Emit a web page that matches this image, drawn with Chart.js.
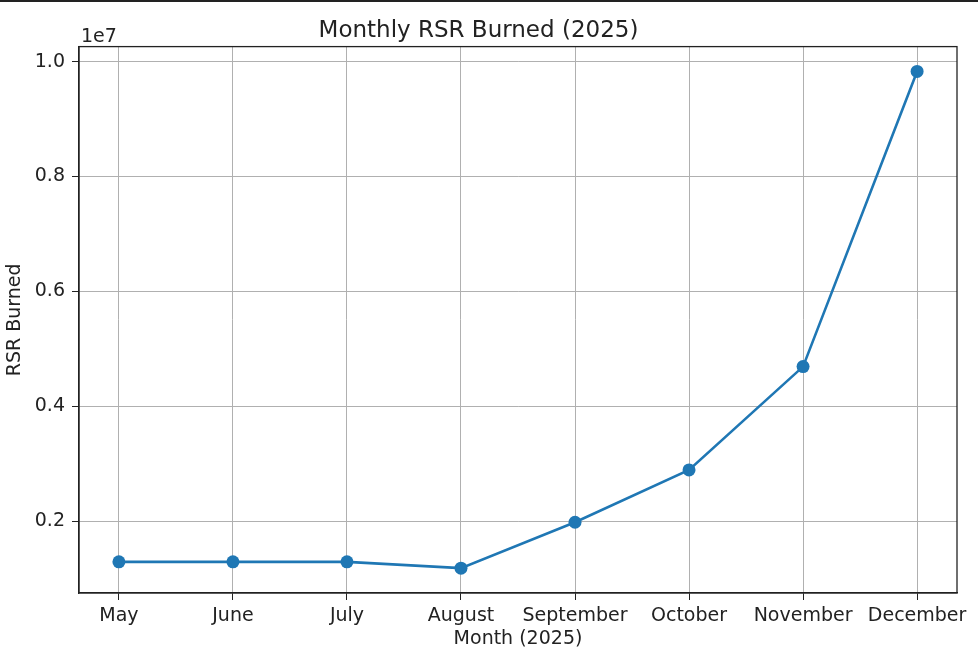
<!DOCTYPE html>
<html>
<head>
<meta charset="utf-8">
<title>Monthly RSR Burned (2025)</title>
<script src="https://cdn.jsdelivr.net/npm/chart.js@4.4.1/dist/chart.umd.min.js"></script>
<style>
  html, body { margin: 0; padding: 0; background: #fff; }
  .wrap { position: relative; width: 978px; height: 660px; }
  .topbar { position: absolute; left: 0; top: 0; width: 978px; height: 2px; background: #222; }
  canvas { display: block; }
</style>
</head>
<body>
<div class="wrap">
  <canvas id="myChart" width="978" height="660"></canvas>
  <div class="topbar"></div>
</div>
<script>
/* DATA */
const months = ['May', 'June', 'July', 'August', 'September', 'October', 'November', 'December'];
const rsrBurned = [1290000, 1290000, 1290000, 1180000, 1980000, 2890000, 4690000, 9830000];
const yTicks = [2000000, 4000000, 6000000, 8000000, 10000000];

const FONT = 'DejaVu Sans';
const lineBlue = '#1f77b4';

/* y limits with the 5% margin matplotlib uses */
const dataMin = Math.min(...rsrBurned);
const dataMax = Math.max(...rsrBurned);
const pad = (dataMax - dataMin) * 0.05;

/* frame on all four sides + the "1e7" offset text */
const framePlugin = {
  id: 'frame',
  afterDraw: function(chart){
    const ctx = chart.ctx;
    const a = chart.chartArea;
    ctx.save();
    ctx.strokeStyle = '#222';
    ctx.lineWidth = 1.3;
    ctx.strokeRect(a.left, a.top, a.right - a.left, a.bottom - a.top);
    ctx.fillStyle = '#222';
    ctx.font = '19px "' + FONT + '"';
    ctx.textAlign = 'left';
    ctx.textBaseline = 'middle';
    ctx.fillText('1e7', a.left + 2, a.top - 10);
    ctx.restore();
  },
};

const ctx = document.getElementById('myChart').getContext('2d');

const chart = new Chart(ctx, {
  type: 'line',
  data: {
    datasets: [{
      label: 'RSR Burned',
      data: rsrBurned.map(function(v, i){ return {x: i, y: v}; }),
      borderColor: lineBlue,
      backgroundColor: lineBlue,
      borderWidth: 2.6,
      pointRadius: 6.5,
      pointHoverRadius: 6.5,
      pointBorderWidth: 0,
      tension: 0,
      clip: false,
    }],
  },
  options: {
    responsive: false,
    animation: false,
    events: [],
    layout: { padding: { left: 0, right: 21, top: 0, bottom: 0 } },
    plugins: {
      legend: { display: false },
      tooltip: { enabled: false },
      title: {
        display: true,
        text: 'Monthly RSR Burned (2025)',
        color: '#222',
        font: { family: FONT, size: 23, weight: 'normal' },
        padding: { top: 17, bottom: 2 },
      },
    },
    scales: {
      x: {
        type: 'linear',
        min: -0.35,
        max: months.length - 1 + 0.35,
        afterBuildTicks: function(scale){
          scale.ticks = months.map(function(m, i){ return {value: i}; });
        },
        afterFit: function(scale){ scale.height = 67; },
        ticks: {
          color: '#222',
          font: { family: FONT, size: 19 },
          padding: 5,
          maxRotation: 0,
          autoSkip: false,
          callback: function(v){ return months[v]; },
        },
        grid: { color: '#b0b0b0', lineWidth: 1, tickColor: '#222', tickLength: 7 },
        border: { color: '#222', width: 1.3 },
        title: {
          display: true,
          text: 'Month (2025)',
          color: '#222',
          font: { family: FONT, size: 19 },
          padding: { top: 0, bottom: 10 },
        },
      },
      y: {
        type: 'linear',
        min: dataMin - pad,
        max: dataMax + pad,
        afterBuildTicks: function(scale){
          scale.ticks = yTicks.map(function(v){ return {value: v}; });
        },
        afterFit: function(scale){ scale.width = 79; },
        ticks: {
          color: '#222',
          font: { family: FONT, size: 19 },
          padding: 7,
          callback: function(v){ return (v / 1e7).toFixed(1); },
        },
        grid: { color: '#b0b0b0', lineWidth: 1, tickColor: '#222', tickLength: 7 },
        border: { color: '#222', width: 1.3 },
        title: {
          display: true,
          text: 'RSR Burned',
          color: '#222',
          font: { family: FONT, size: 19 },
          padding: { top: 4, bottom: 0 },
        },
      },
    },
  },
  plugins: [framePlugin],
});
</script>
</body>
</html>
